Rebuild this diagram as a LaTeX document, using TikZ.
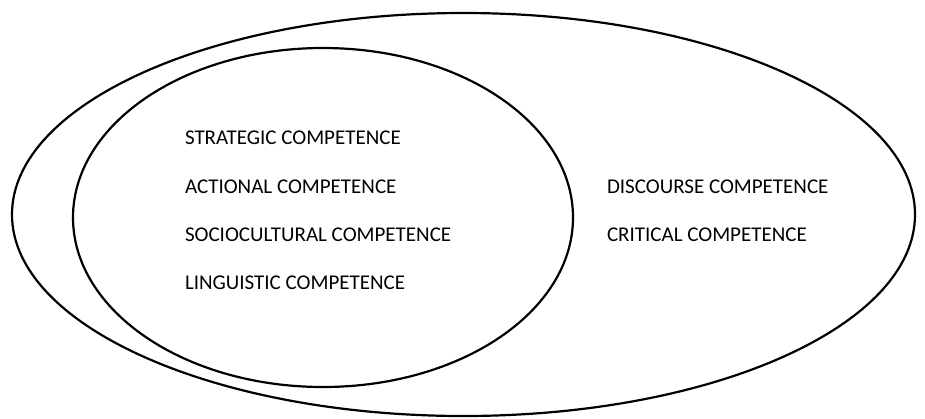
\documentclass[tikz,border=0pt]{standalone}
\usepackage{fontspec}
\setmainfont{Carlito}
\usetikzlibrary{positioning}
\tikzset{
    % Outlines
    ring/.style={black,line width=1.1pt},
    %
    % Labels
    competence/.style={anchor=base west,inner sep=0pt,outer sep=0pt}
}
\tikzstyle{every node}=[font=\fontsize{10.5}{12}\selectfont]

\begin{document}
\begin{tikzpicture}[x=0.5pt,y=-0.5pt]
        \useasboundingbox (0,0) rectangle (925,418);
        \draw[ring] (463.5,214.5) ellipse [x radius=451.5, y radius=201.5];
        \draw[ring] (323,217.5) ellipse [x radius=250, y radius=169.5];
    
        \node[competence] (strategic) at (185,144) {STRATEGIC COMPETENCE};
        \node[competence] (actional) at (185,193) {ACTIONAL COMPETENCE};
        \node[competence] (sociocultural) at (185,241) {SOCIOCULTURAL COMPETENCE};
        \node[competence] (linguistic) at (185,289) {LINGUISTIC COMPETENCE};
    
        \node[competence] (discourse) at (607,193) {DISCOURSE COMPETENCE};
        \node[competence] (critical) at (607,241) {CRITICAL COMPETENCE};
    \end{tikzpicture}
\end{document}
